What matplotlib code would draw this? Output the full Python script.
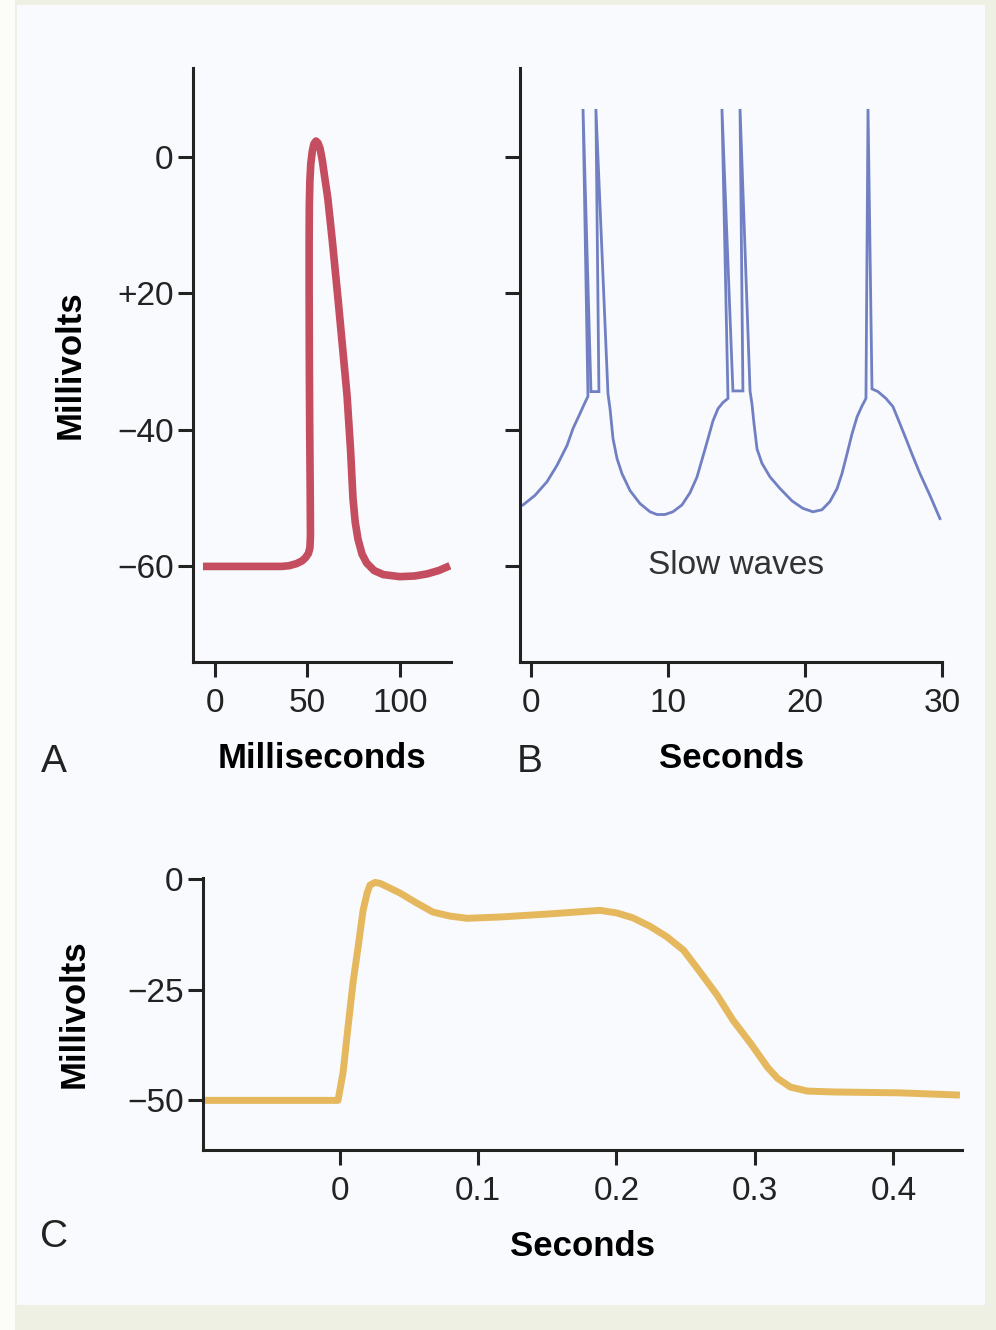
import matplotlib
matplotlib.use("Agg")
import matplotlib.pyplot as plt
from matplotlib.patches import Rectangle

plt.rcParams['font.family'] = ['Liberation Sans', 'DejaVu Sans']

# --- panel A: action potential (ms, mV)
a_ms = [-6.5, 20, 36, 40, 44, 47, 49, 50.5, 51.3, 51.6, 51.5, 51.2, 51.0, 50.9, 50.9,
        51.0, 51.3, 51.8, 52.6, 53.5, 54.6, 55.7, 56.8, 58.0, 59.2, 61.0, 63.5, 66.5,
        69.0, 71.4, 73.3, 74.6, 75.8, 77.3, 79.5, 82.0, 86.0, 91.0, 100.0, 108.0,
        114.6, 121.0, 127.0]
a_mv = [-60, -60, -60, -59.9, -59.6, -59.2, -58.7, -58.1, -57.3, -55.5, -50, -40, -30,
        -20, -12, -7, -3.5, -1.0, 0.8, 1.9, 2.3, 2.0, 1.2, -0.5, -2.8, -6.1, -12.5,
        -20.8, -28.0, -35.0, -43.0, -50.0, -53.5, -56.0, -58.2, -59.5, -60.6, -61.2,
        -61.5, -61.4, -61.1, -60.6, -59.9]
a_yticks = [0, -20, -40, -60]
a_yticklabels = ['0', '+20', '\u221240', '\u221260']
a_xticks = [0, 50, 100]

# --- panel B: slow waves with spikes (s, mV)
b_s = [-0.73, -0.58, 0.29, 1.17, 1.90, 2.63, 3.07, 3.58, 3.94, 4.16,
       3.80, 4.38, 4.96, 4.74, 5.62,
       5.77, 5.99, 6.28, 6.64, 7.23, 7.96, 8.69, 9.20, 9.78, 10.36, 11.02, 11.61, 12.12,
       12.55, 12.92, 13.28, 13.65, 14.01, 14.38,
       13.94, 14.74, 15.47, 15.26, 15.99,
       16.13, 16.28, 16.50, 16.86, 17.45, 18.18, 19.05, 19.85, 20.58, 21.24, 21.82,
       22.34, 22.70, 23.07, 23.43, 23.80, 24.16, 24.45,
       24.60, 24.89, 25.33,
       25.91, 26.42, 26.93, 27.37, 27.88, 28.39, 29.12, 29.85]
b_mv = [-51.1, -51.0, -49.6, -47.6, -45.2, -42.3, -39.8, -37.6, -36.0, -35.1,
        7.0, -34.4, -34.4, 7.0, -34.7,
        -36.9, -41.3, -44.2, -46.4, -48.9, -50.8, -52.0, -52.4, -52.4, -52.0, -51.0,
        -49.2, -46.9, -43.9, -41.3, -38.7, -36.9, -36.0, -35.4,
        7.0, -34.3, -34.3, 7.0, -34.3,
        -36.2, -39.1, -42.8, -44.9, -46.9, -48.6, -50.4, -51.5, -52.0, -51.7, -50.5,
        -48.6, -46.4, -43.5, -40.6, -38.1, -36.5, -35.4,
        7.0, -34.0, -34.4,
        -35.4, -36.6, -39.1, -41.3, -43.9, -46.4, -49.6, -53.0]
b_xticks = [0, 10, 20, 30]

# --- panel C: plateau potential (s, mV)
c_s = [-0.0971, -0.05, -0.0011, 0.0025, 0.0061, 0.0097, 0.0134, 0.0170, 0.0199, 0.0220,
       0.0256, 0.0292, 0.0365, 0.0437, 0.0560, 0.0675, 0.0798, 0.0921, 0.116, 0.152,
       0.188, 0.2004, 0.2119, 0.2242, 0.2365, 0.2484, 0.2603, 0.2726, 0.2841, 0.2968,
       0.3090, 0.3162, 0.3256, 0.3379, 0.3567, 0.4047, 0.448]
c_mv = [-50, -50, -50, -43.8, -33.5, -23.5, -15.4, -7.1, -3.2, -1.4,
        -0.8, -1.0, -2.1, -3.2, -5.5, -7.5, -8.4, -8.9, -8.6, -7.9,
        -7.1, -7.7, -8.8, -10.7, -13.1, -16.1, -21.0, -26.2, -31.9, -37.1,
        -42.5, -45.0, -47.0, -47.9, -48.1, -48.3, -48.8]
c_yticks = [0, -25, -50]
c_yticklabels = ['0', '\u221225', '\u221250']
c_xticks = [0, 0.1, 0.2, 0.3, 0.4]

red = '#c44d60'
blue = '#7180c2'
gold = '#e6b85e'
ink = '#222222'

W, H = 996, 1330
fig = plt.figure(figsize=(W / 100, H / 100), dpi=100, facecolor='#eef0e4')

# background panel
fig.patches.append(Rectangle((0, 0), 15 / W, 1, transform=fig.transFigure,
                             facecolor='#fcfcf8', edgecolor='none', zorder=-10))
fig.patches.append(Rectangle((17 / W, 25 / H), (985 - 17) / W, (1325 - 25) / H,
                             transform=fig.transFigure, facecolor='#f8fafd',
                             edgecolor='none', zorder=-10))


def box(l, t, r, b):
    return [l / W, 1 - b / H, (r - l) / W, (b - t) / H]


def style(ax):
    ax.set_facecolor('none')
    for s in ['top', 'right']:
        ax.spines[s].set_visible(False)
    for s in ['left', 'bottom']:
        ax.spines[s].set_linewidth(2.2)
        ax.spines[s].set_color(ink)
    ax.tick_params(axis='both', direction='out', length=11, width=2.2, color=ink,
                   labelsize=24, labelcolor='#222222')
    ax.tick_params(axis='x', pad=8)
    ax.tick_params(axis='y', pad=3)


# A
axA = fig.add_axes(box(193, 68, 451, 662))
style(axA)
axA.plot(a_ms, a_mv, color=red, lw=5.5, solid_capstyle='butt', solid_joinstyle='round')
axA.set_xlim(-11.9, 127.6)
axA.set_ylim(-74, 13)
axA.set_yticks(a_yticks)
axA.set_yticklabels(a_yticklabels)
axA.set_xticks(a_xticks)
axA.set_xlabel('Milliseconds', fontsize=25, fontweight='bold', labelpad=16)
axA.set_ylabel('Millivolts', fontsize=25, fontweight='bold', labelpad=22)

# B
axB = fig.add_axes(box(520, 68, 942, 662))
style(axB)
axB.plot(b_s, b_mv, color=blue, lw=2.0, solid_joinstyle='miter')
axB.set_xlim(-0.8, 30.0)
axB.set_ylim(-74, 13)
axB.set_yticks(a_yticks)
axB.set_yticklabels([])
axB.set_xticks(b_xticks)
axB.set_xlabel('Seconds', fontsize=25, fontweight='bold', labelpad=16)
axB.text(15.0, -59.9, 'Slow waves', fontsize=24, color='#333333', ha='center', va='center')

# C
axC = fig.add_axes(box(203, 878, 962, 1150))
style(axC)
axC.plot(c_s, c_mv, color=gold, lw=5.0, solid_capstyle='butt', solid_joinstyle='round')
axC.set_xlim(-0.0986, 0.4495)
axC.set_ylim(-61.2, 0.2)
axC.set_yticks(c_yticks)
axC.set_yticklabels(c_yticklabels)
axC.set_xticks(c_xticks)
axC.set_xticklabels(['0', '0.1', '0.2', '0.3', '0.4'])
axC.set_xlabel('Seconds', fontsize=25, fontweight='bold', labelpad=16)
axC.set_ylabel('Millivolts', fontsize=25, fontweight='bold', labelpad=26)

# panel letters
for letter, x, y in [('A', 54, 762), ('B', 530, 762), ('C', 54, 1237)]:
    fig.text(x / W, 1 - y / H, letter, fontsize=28, color='#222222', ha='center', va='center')

fig.savefig('out.png', dpi=100, facecolor=fig.get_facecolor())
